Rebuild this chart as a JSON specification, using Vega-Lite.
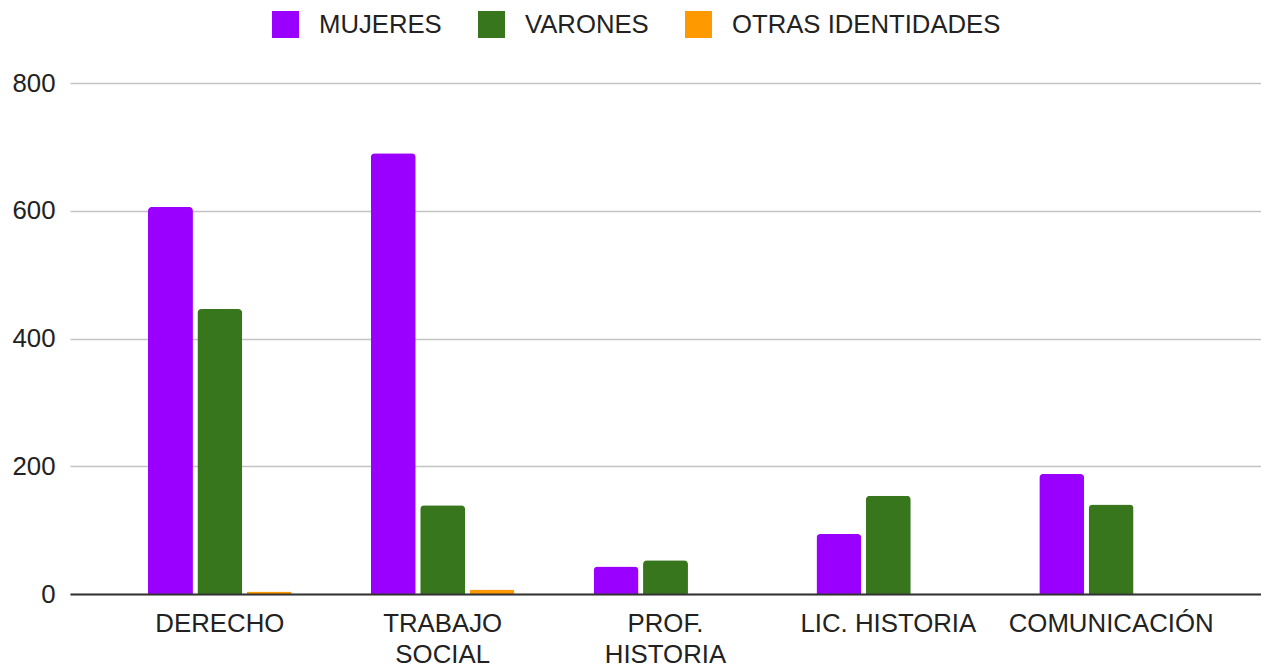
{
  "$schema": "https://vega.github.io/schema/vega-lite/v6.json",
  "width": 1191,
  "height": 511,
  "autosize": {"type": "none"},
  "padding": {"left": 70, "top": 83, "right": 0, "bottom": 72},
  "background": "white",
  "config": {
    "view": {"stroke": null},
    "font": "Liberation Sans",
    "axis": {"labelFont": "Liberation Sans", "labelFontSize": 25.8, "labelColor": "#222222"},
    "legend": {"labelFont": "Liberation Sans", "labelFontSize": 25.7, "labelColor": "#222222"}
  },
  "data": {
    "values": [
      {"carrera": "DERECHO", "grupo": "MUJERES", "valor": 606},
      {"carrera": "DERECHO", "grupo": "VARONES", "valor": 446},
      {"carrera": "DERECHO", "grupo": "OTRAS IDENTIDADES", "valor": 4},
      {"carrera": "TRABAJO SOCIAL", "grupo": "MUJERES", "valor": 690},
      {"carrera": "TRABAJO SOCIAL", "grupo": "VARONES", "valor": 139},
      {"carrera": "TRABAJO SOCIAL", "grupo": "OTRAS IDENTIDADES", "valor": 7},
      {"carrera": "PROF. HISTORIA", "grupo": "MUJERES", "valor": 43},
      {"carrera": "PROF. HISTORIA", "grupo": "VARONES", "valor": 53},
      {"carrera": "PROF. HISTORIA", "grupo": "OTRAS IDENTIDADES", "valor": 0},
      {"carrera": "LIC. HISTORIA", "grupo": "MUJERES", "valor": 94},
      {"carrera": "LIC. HISTORIA", "grupo": "VARONES", "valor": 154},
      {"carrera": "LIC. HISTORIA", "grupo": "OTRAS IDENTIDADES", "valor": 0},
      {"carrera": "COMUNICACIÓN", "grupo": "MUJERES", "valor": 188},
      {"carrera": "COMUNICACIÓN", "grupo": "VARONES", "valor": 140},
      {"carrera": "COMUNICACIÓN", "grupo": "OTRAS IDENTIDADES", "valor": 0}
    ]
  },
  "mark": {"type": "bar", "cornerRadiusTopLeft": 4, "cornerRadiusTopRight": 4},
  "encoding": {
    "x": {
      "field": "carrera",
      "type": "nominal",
      "sort": ["DERECHO", "TRABAJO SOCIAL", "PROF. HISTORIA", "LIC. HISTORIA", "COMUNICACIÓN"],
      "scale": {"paddingInner": 0.355, "paddingOuter": 0.35},
      "axis": {
        "title": null,
        "labelAngle": 0,
        "ticks": false,
        "domain": true,
        "domainColor": "#333333",
        "domainWidth": 2,
        "labelPadding": 17,
        "labelBaseline": "top",
        "labelLineHeight": 31,
        "labelLimit": 400,
        "labelExpr": "datum.value == 'TRABAJO SOCIAL' ? ['TRABAJO', 'SOCIAL'] : datum.value == 'PROF. HISTORIA' ? ['PROF.', 'HISTORIA'] : datum.value",
        "zindex": 2
      }
    },
    "xOffset": {
      "field": "grupo",
      "type": "nominal",
      "sort": ["MUJERES", "VARONES", "OTRAS IDENTIDADES"],
      "scale": {"paddingInner": 0.09, "paddingOuter": 0}
    },
    "y": {
      "field": "valor",
      "type": "quantitative",
      "scale": {"domain": [0, 800], "nice": false},
      "axis": {
        "title": null,
        "values": [0, 200, 400, 600, 800],
        "ticks": false,
        "domain": false,
        "labelPadding": 15,
        "gridColor": "#c4c4c4",
        "gridWidth": 1.6,
        "zindex": 0
      }
    },
    "color": {
      "field": "grupo",
      "type": "nominal",
      "sort": ["MUJERES", "VARONES", "OTRAS IDENTIDADES"],
      "scale": {"domain": ["MUJERES", "VARONES", "OTRAS IDENTIDADES"], "range": ["#9900ff", "#38761d", "#ff9900"]},
      "legend": {
        "title": null,
        "orient": "none",
        "direction": "horizontal",
        "legendX": 202,
        "legendY": -72,
        "symbolType": "square",
        "symbolSize": 729,
        "symbolStrokeWidth": 0,
        "symbolOpacity": 1,
        "labelOffset": 20,
        "columnPadding": 36,
        "labelLimit": 400
      }
    }
  }
}
